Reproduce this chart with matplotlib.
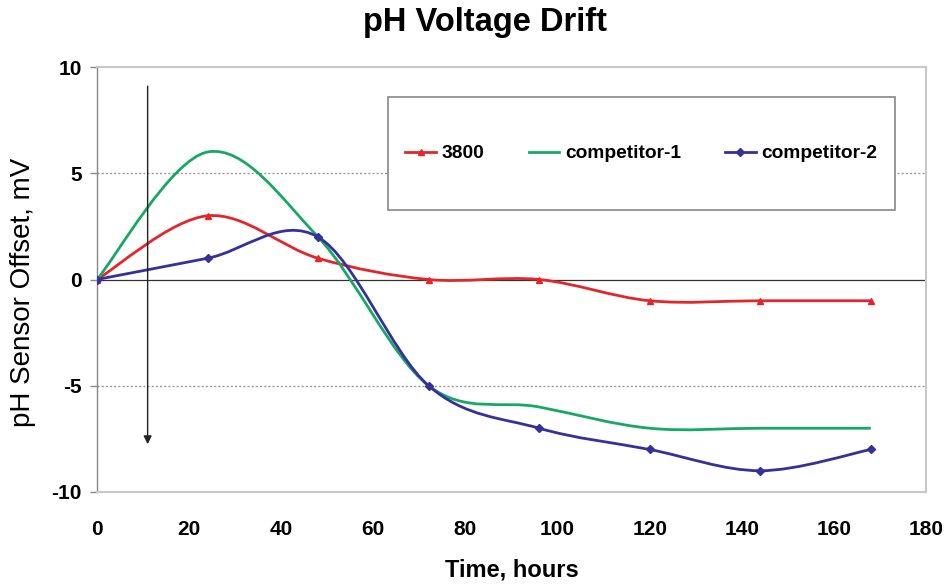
import numpy as np
import matplotlib
matplotlib.use("Agg")
import matplotlib.pyplot as plt
from matplotlib.path import Path
from matplotlib.patches import PathPatch, Rectangle
from matplotlib.lines import Line2D

plt.rcParams['font.family'] = ['Liberation Sans', 'DejaVu Sans']
plt.rcParams['axes.unicode_minus'] = False

hours = [0, 24, 48, 72, 96, 120, 144, 168]
s3800 = [0, 3, 1, 0, 0, -1, -1, -1]
comp1 = [0, 6, 2, -5, -6, -7, -7, -7]
comp2 = [0, 1, 2, -5, -7, -8, -9, -8]
series_names = ['3800', 'competitor-1', 'competitor-2']
xticks = [0, 20, 40, 60, 80, 100, 120, 140, 160, 180]
yticks = [-10, -5, 0, 5, 10]

colors = ['#e3262a', '#17a866', '#35309a']
markers = ['^', None, 'D']

def smooth_path(x, y):
    x = np.asarray(x, float); y = np.asarray(y, float)
    pts = np.column_stack([x, y])
    n = len(pts)
    verts = [pts[0]]
    codes = [Path.MOVETO]
    for i in range(n - 1):
        p0 = pts[i - 1] if i > 0 else pts[i]
        p1 = pts[i]
        p2 = pts[i + 1]
        p3 = pts[i + 2] if i + 2 < n else pts[i + 1]
        c1 = p1 + (p2 - p0) / 6.0
        c2 = p2 - (p3 - p1) / 6.0
        verts += [c1, c2, p2]
        codes += [Path.CURVE4] * 3
    return Path(verts, codes)

fig = plt.figure(figsize=(9.47, 5.88), dpi=100)
ax = fig.add_axes([0.1024, 0.1633, 0.8755, 0.7227])
ax.set_xlim(0, 180)
ax.set_ylim(-10, 10)

for yv in (5, -5):
    ax.axhline(yv, color='#999999', lw=1.0, ls=(0, (1.5, 1.5)), zorder=1)
ax.axhline(0, color='#333333', lw=0.9, zorder=1)

for vals, c, m, name in zip([s3800, comp1, comp2], colors, markers, series_names):
    ax.add_patch(PathPatch(smooth_path(hours, vals), facecolor='none',
                           edgecolor=c, lw=2.0, zorder=3))
    if m is not None:
        ax.plot(hours, vals, ls='none', marker=m, color=c,
                markersize=5 if m == '^' else 4, zorder=4)

ax.annotate('', xy=(11, -7.75), xytext=(11, 9.1),
            arrowprops=dict(arrowstyle='-|>', color='#222222', lw=1.0,
                            mutation_scale=12, shrinkA=0, shrinkB=0), zorder=5)

for sp in ['top', 'right', 'bottom']:
    ax.spines[sp].set_color('#c8c8c8')
    ax.spines[sp].set_linewidth(1.5)
ax.spines['left'].set_color('#888888')
ax.spines['left'].set_linewidth(1.0)

ax.set_xticks(xticks)
ax.set_yticks(yticks)
ax.tick_params(axis='x', length=0, pad=20, labelsize=15)
ax.tick_params(axis='y', length=5, width=1, color='#888888', direction='out',
               pad=6, labelsize=15)
for lab in ax.get_xticklabels() + ax.get_yticklabels():
    lab.set_fontweight('bold')

ax.set_xlabel('Time, hours', fontsize=17, fontweight='bold', labelpad=14)
ax.set_ylabel('pH Sensor Offset, mV', fontsize=20)
ax.yaxis.set_label_coords(-0.073, 0.47)
fig.text(0.512, 0.961, 'pH Voltage Drift', fontsize=23.5, fontweight='bold',
         ha='center', va='center')

ax.add_patch(Rectangle((0.3507, 0.6635), 0.6118, 0.2655, transform=ax.transAxes,
                       facecolor='white', edgecolor='#888888', lw=1.2, zorder=6))
handles = [Line2D([], [], color=c, lw=2, marker=m, markersize=4)
           for c, m in zip(colors, markers)]
leg = ax.legend(handles, series_names, ncol=3, frameon=False,
                loc='center', bbox_to_anchor=(0.3507 + 0.6118 / 2, 0.6635 + 0.2655 / 2),
                prop={'weight': 'bold', 'size': 13.8}, handlelength=1.6,
                handletextpad=0.3, columnspacing=2.3)
leg.set_zorder(7)

fig.savefig('out.png', dpi=100)
